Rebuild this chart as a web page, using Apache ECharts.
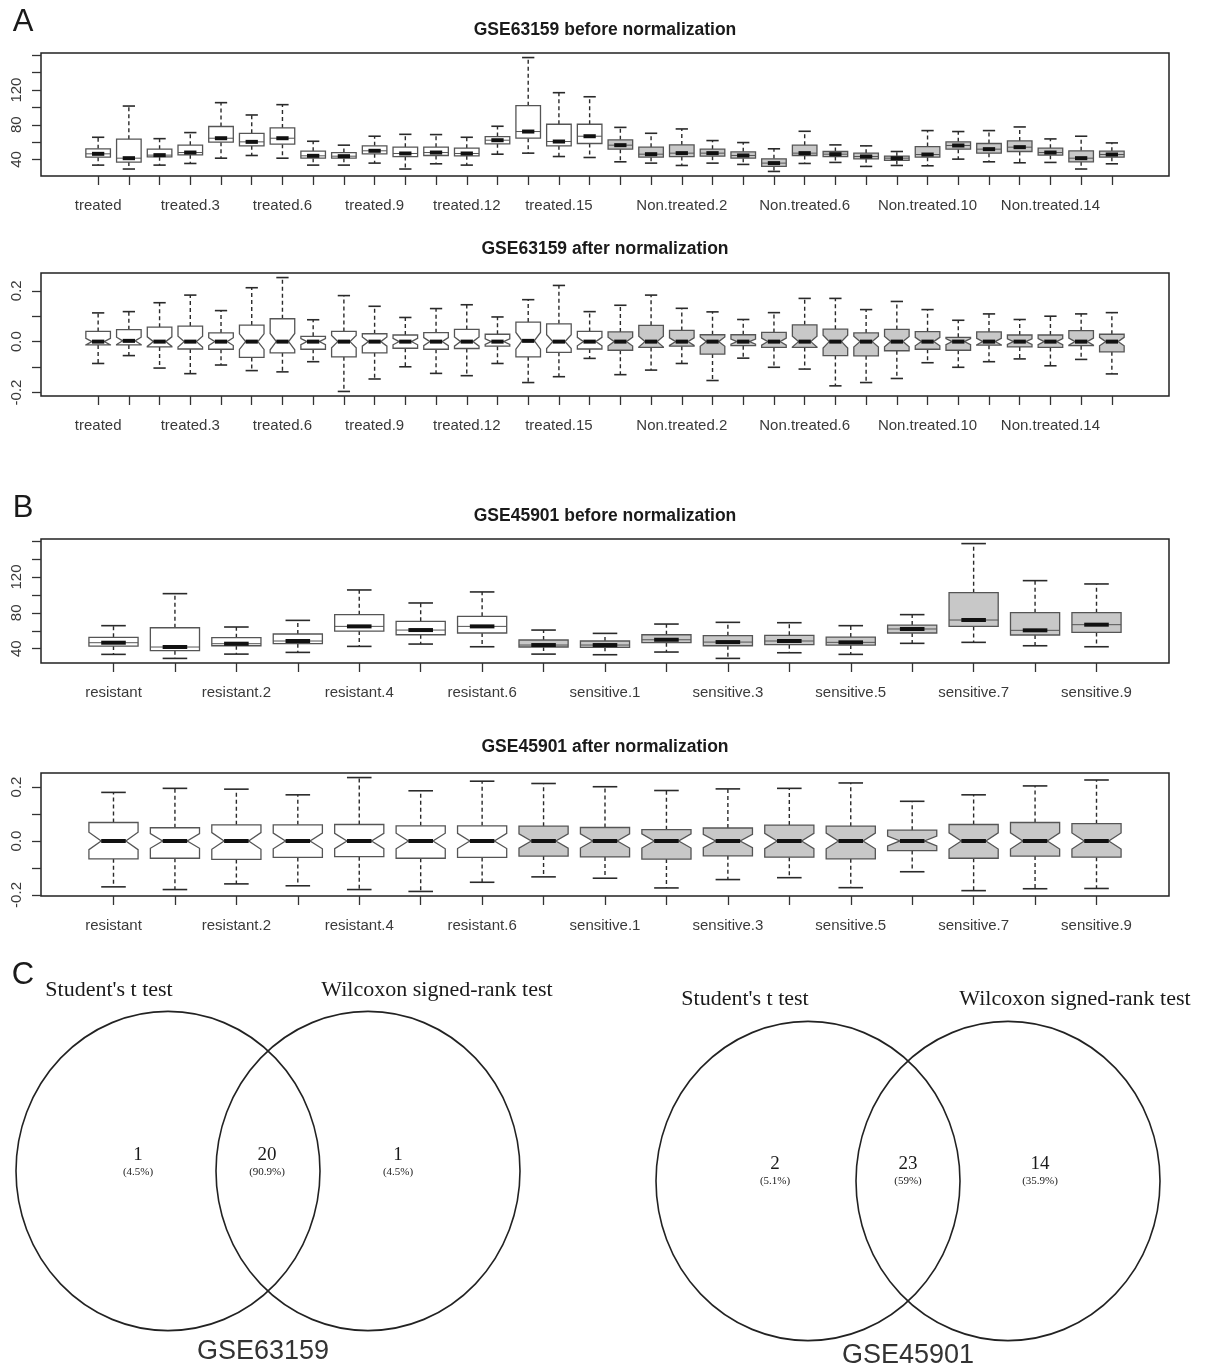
<!DOCTYPE html>
<html><head><meta charset="utf-8">
<script src="https://cdn.jsdelivr.net/npm/echarts@6/dist/echarts.min.js"></script>
<style>html,body{margin:0;padding:0;background:#fff}#c{width:1207px;height:1367px}</style>
</head><body><div id="c"></div>
<script>
// ---------- DATA ----------
const namesA = ['treated','treated.1','treated.2','treated.3','treated.4','treated.5','treated.6','treated.7','treated.8','treated.9','treated.10','treated.11','treated.12','treated.13','treated.14','treated.15','treated.16',
  'Non.treated','Non.treated.1','Non.treated.2','Non.treated.3','Non.treated.4','Non.treated.5','Non.treated.6','Non.treated.7','Non.treated.8','Non.treated.9','Non.treated.10','Non.treated.11','Non.treated.12','Non.treated.13','Non.treated.14','Non.treated.15','Non.treated.16'];
const shownA = ['treated','treated.3','treated.6','treated.9','treated.12','treated.15','Non.treated.2','Non.treated.6','Non.treated.10','Non.treated.14'];
const namesB = ['resistant','resistant.1','resistant.2','resistant.3','resistant.4','resistant.5','resistant.6',
  'sensitive','sensitive.1','sensitive.2','sensitive.3','sensitive.4','sensitive.5','sensitive.6','sensitive.7','sensitive.8','sensitive.9'];
const shownB = ['resistant','resistant.2','resistant.4','resistant.6','sensitive.1','sensitive.3','sensitive.5','sensitive.7','sensitive.9'];

// GSE63159 before normalization
const a1High = [65.6,101.6,64,71,105.5,91.3,103.2,61,56.5,66.8,69,68.7,65.6,78.3,157.5,117,112.3, 77,70.2,75.2,61.8,59.5,52.3,72.5,56.8,55.7,49.2,73.3,72.2,73.3,77.5,63.7,66.8,59.1];
const a1Q3   = [52.3,63.4,51.9,56.5,78,70.2,76.4,49.6,48,55.7,54.2,54.2,53,66.4,102,80.6,80.6, 62.6,54.2,56.8,51.9,48.8,40.8,56.5,49.2,47.3,43.8,54.9,60.3,58.4,61.4,53,50,49.6];
const a1Med  = [46.5,41.5,45,48,64.5,60.3,64.5,44.2,43.8,50,46.9,48,46.9,62.2,72.2,60.7,66.8, 56.5,46.1,47.3,47.3,44.6,35.8,47.3,46.1,43.4,41.5,45.7,56.1,51.9,54.2,48,41.5,45.7];
const a1Q1   = [42.7,37,43,45.4,60,55.7,57.6,41.5,41.5,46.5,43.4,44.6,44.2,58,64.5,55.7,58.4, 51.9,42.7,43.4,43.8,41.5,32,44.6,43.4,40.8,38.9,42.7,51.9,47.3,49.2,45,37.3,42.7];
const a1Low  = [33.5,29,33.5,35.4,41.5,44.6,41.5,33.5,33.5,35.8,29,35,33.5,46.1,47.3,43.4,42.3, 37.3,35.8,33.1,35.8,34.3,26.2,35.4,36.6,32,33.1,32.7,40.4,37.3,36.2,36.6,29,35];

// GSE63159 after normalization
const a2High = [0.113,0.118,0.153,0.183,0.122,0.212,0.252,0.086,0.181,0.139,0.095,0.130,0.145,0.097,0.165,0.221,0.118, 0.143,0.183,0.131,0.117,0.087,0.114,0.170,0.170,0.126,0.158,0.126,0.084,0.109,0.087,0.100,0.109,0.114];
const a2Q3   = [0.040,0.047,0.057,0.061,0.034,0.065,0.090,0.021,0.040,0.031,0.026,0.035,0.048,0.029,0.077,0.070,0.040, 0.038,0.064,0.044,0.027,0.027,0.036,0.066,0.049,0.034,0.048,0.039,0.017,0.038,0.026,0.026,0.043,0.029];
const a2Med  = [0,0.003,0,0,0,0,0,0,0,0,0,0,0,0,0.003,0,0, 0,0,0,0,0,0,0,0,0,0,0,0,0,0,0,0,0];
const a2Q1   = [-0.013,-0.013,-0.021,-0.029,-0.030,-0.062,-0.044,-0.030,-0.060,-0.044,-0.026,-0.030,-0.027,-0.018,-0.060,-0.042,-0.029, -0.034,-0.023,-0.018,-0.049,-0.016,-0.023,-0.023,-0.055,-0.056,-0.036,-0.030,-0.034,-0.014,-0.021,-0.023,-0.016,-0.040];
const a2Low  = [-0.086,-0.055,-0.104,-0.126,-0.092,-0.114,-0.119,-0.079,-0.196,-0.147,-0.099,-0.125,-0.134,-0.086,-0.161,-0.138,-0.066, -0.130,-0.112,-0.086,-0.153,-0.065,-0.101,-0.108,-0.174,-0.161,-0.145,-0.083,-0.101,-0.079,-0.068,-0.095,-0.070,-0.127];

// GSE45901 before normalization
const b1High = [65.7,101.4,64.2,71.6,105.5,91,103.3,60.8,57.1,67.5,69.4,69,65.7,78,157.2,115.9,112.2];
const b1Q3   = [52.7,63.4,52.3,56.4,77.9,70.5,76.1,49.7,48.6,55.6,54.5,54.9,53,66.4,102.5,80.2,80.2];
const b1Med  = [46.7,41.9,45.6,48.6,64.9,60.8,64.9,44.1,44.1,50,47.4,48.6,47.1,62,72,60.5,66.8];
const b1Q1   = [43,37.8,43.3,45.6,59.7,55.6,57.5,41.9,41.5,46.7,43.3,44.5,44.1,57.5,64.9,55.3,58.2];
const b1Low  = [33.7,29.2,34,35.9,42.6,45.2,42.2,34,33.3,36.3,29.2,35.5,33.7,46,47.1,43.3,42.2];

// GSE45901 after normalization
const b2High = [0.180,0.195,0.192,0.171,0.235,0.186,0.2215,0.213,0.201,0.187,0.193,0.195,0.215,0.147,0.171,0.204,0.226];
const b2Q3   = [0.0685,0.049,0.060,0.060,0.061,0.056,0.056,0.055,0.050,0.042,0.048,0.059,0.055,0.040,0.061,0.0685,0.064];
const b2Med  = [0,0,0,0,0,0,0,0,0,0,0,0,0,0,0,0,0];
const b2Q1   = [-0.066,-0.064,-0.0685,-0.061,-0.058,-0.064,-0.061,-0.056,-0.059,-0.067,-0.055,-0.060,-0.066,-0.0355,-0.064,-0.056,-0.060];
const b2Low  = [-0.170,-0.180,-0.159,-0.166,-0.180,-0.187,-0.153,-0.133,-0.138,-0.174,-0.143,-0.136,-0.173,-0.114,-0.184,-0.177,-0.176];

const beforeTicks = [40,60,80,100,120,140,160];
const beforeLabels = [40,80,120];
const afterTicks = [-0.2,-0.1,0,0.1,0.2];
const afterLabels = [-0.2,0,0.2];

// Venn diagrams
const vennSetNames = ["Student's t test", 'Wilcoxon signed-rank test'];
const vennTitles = ['GSE63159','GSE45901'];
const vennCountsA = [1,20,1];
const vennPctA = ['(4.5%)','(90.9%)','(4.5%)'];
const vennCountsB = [2,23,14];
const vennPctB = ['(5.1%)','(59%)','(35.9%)'];

// ---------- RENDER ----------
const SANS = '"Liberation Sans", Arial, sans-serif';
const SERIF = '"Liberation Serif", "Times New Roman", serif';
const panels = [
  {title:'GSE63159 before normalization', top:53, h:123, names:namesA, shown:shownA, grey:'Non', notch:false,
   low:a1Low,q1:a1Q1,med:a1Med,q3:a1Q3,high:a1High, ticks:beforeTicks, labs:beforeLabels, fmt:v=>String(v), ty:30},
  {title:'GSE63159 after normalization', top:273, h:123, names:namesA, shown:shownA, grey:'Non', notch:true,
   low:a2Low,q1:a2Q1,med:a2Med,q3:a2Q3,high:a2High, ticks:afterTicks, labs:afterLabels, fmt:v=>v.toFixed(1), ty:249},
  {title:'GSE45901 before normalization', top:539, h:124, names:namesB, shown:shownB, grey:'sensitive', notch:false,
   low:b1Low,q1:b1Q1,med:b1Med,q3:b1Q3,high:b1High, ticks:beforeTicks, labs:beforeLabels, fmt:v=>String(v), ty:516},
  {title:'GSE45901 after normalization', top:773, h:123, names:namesB, shown:shownB, grey:'sensitive', notch:true,
   low:b2Low,q1:b2Q1,med:b2Med,q3:b2Q3,high:b2High, ticks:afterTicks, labs:afterLabels, fmt:v=>v.toFixed(1), ty:747}
];

const grids=[], xAxes=[], yAxes=[], series=[], graphics=[];
panels.forEach((p, k) => {
  const n = p.names.length;
  grids.push({left:41, width:1128, top:p.top, height:p.h, show:true, borderColor:'#222', borderWidth:1.5, backgroundColor:'transparent'});
  const ext = 0.04*n;
  xAxes.push({gridIndex:k, type:'value', min:0.5-ext, max:n+0.5+ext, position:'bottom',
    axisLine:{show:false, onZero:false}, splitLine:{show:false},
    axisTick:{show:true, length:9, customValues:p.names.map((_,i)=>i+1), lineStyle:{color:'#333', width:1.3}},
    axisLabel:{customValues:p.shown.map(s=>p.names.indexOf(s)+1), formatter:v=>p.names[Math.round(v)-1],
      margin:22, fontSize:15, fontFamily:SANS, color:'#3a3a3a'}});
  const dmin = Math.min(...p.low), dmax = Math.max(...p.high), r = dmax-dmin;
  yAxes.push({gridIndex:k, type:'value', min:dmin-0.04*r, max:dmax+0.04*r, position:'left',
    axisLine:{show:false, onZero:false}, splitLine:{show:false},
    axisTick:{show:true, length:9, customValues:p.ticks, lineStyle:{color:'#333', width:1.3}},
    axisLabel:{customValues:p.labs, formatter:p.fmt, rotate:90, margin:17, fontSize:15, fontFamily:SANS, color:'#3a3a3a'}});
  const data = p.names.map((nm,i)=>[i+1, p.low[i], p.q1[i], p.med[i], p.q3[i], p.high[i], nm.startsWith(p.grey)?1:0]);
  series.push({type:'custom', xAxisIndex:k, yAxisIndex:k, data, clip:false, silent:true,
    encode:{x:0, y:[1,2,3,4,5]},
    renderItem:(params, api) => {
      const x = api.value(0), lo = api.value(1), q1 = api.value(2), md = api.value(3), q3 = api.value(4), hi = api.value(5);
      const grey = api.value(6) === 1;
      const hw = 0.4;
      const P = (dx, v) => api.coord([x+dx, v]);
      const ln = (a, b, style) => ({type:'line', shape:{x1:a[0], y1:a[1], x2:b[0], y2:b[1]}, style});
      const dash = {stroke:'#2a2a2a', lineWidth:1.4, lineDash:[4,3]};
      const solid = {stroke:'#2a2a2a', lineWidth:1.6};
      const ch = [];
      ch.push(ln(P(0,q3), P(0,hi), dash));
      ch.push(ln(P(0,q1), P(0,lo), dash));
      ch.push(ln(P(-hw/2,hi), P(hw/2,hi), solid));
      ch.push(ln(P(-hw/2,lo), P(hw/2,lo), solid));
      let pts;
      if (p.notch) {
        const nh = 0.24*(q3-q1);
        pts = [P(-hw,q3), P(hw,q3), P(hw,md+nh), P(hw/2,md), P(hw,md-nh), P(hw,q1), P(-hw,q1), P(-hw,md-nh), P(-hw/2,md), P(-hw,md+nh)];
      } else {
        pts = [P(-hw,q3), P(hw,q3), P(hw,q1), P(-hw,q1)];
      }
      ch.push({type:'polygon', shape:{points:pts}, style:{fill: grey ? '#c8c8c8' : '#ffffff', stroke:'#555', lineWidth:1.3}});
      if (!p.notch) ch.push(ln(P(-hw,md), P(hw,md), {stroke:'#555', lineWidth:1}));
      ch.push(ln(P(-hw/2,md), P(hw/2,md), {stroke:'#111', lineWidth:4}));
      return {type:'group', children:ch};
    }});
  graphics.push({type:'text', x:605, y:p.ty, style:{text:p.title, font:'bold 17.5px '+SANS, fill:'#1a1a1a', textAlign:'center', textVerticalAlign:'middle', align:'center', verticalAlign:'middle'}});
});

// panel letters
[['A',23,22],['B',23,508],['C',23,975]].forEach(([t,x,y]) => {
  graphics.push({type:'text', x, y, style:{text:t, font:'31px '+SANS, fill:'#1a1a1a', textAlign:'center', textVerticalAlign:'middle', align:'center', verticalAlign:'middle'}});
});

// Venn diagrams
const venns = [
  {cx:[168,368], cy:1171, setY:990, setX:[109,437], numX:[138,267,398], numY:1155, counts:vennCountsA, pct:vennPctA, title:vennTitles[0], tx:263, tyy:1352},
  {cx:[808,1008], cy:1181, setY:999, setX:[745,1075], numX:[775,908,1040], numY:1164, counts:vennCountsB, pct:vennPctB, title:vennTitles[1], tx:908, tyy:1356}
];
const T = (text, x, y, font, fill) => ({type:'text', x, y, style:{text, font, fill:fill||'#1a1a1a', textAlign:'center', textVerticalAlign:'middle', align:'center', verticalAlign:'middle'}});
venns.forEach(v => {
  v.cx.forEach(cx => graphics.push({type:'circle', x:cx, y:v.cy, scaleY:1.05, shape:{cx:0, cy:0, r:152}, style:{fill:'none', stroke:'#222', lineWidth:1.6}}));
  vennSetNames.forEach((s,i) => graphics.push(T(s, v.setX[i], v.setY, '22px '+SERIF)));
  v.counts.forEach((c,i) => {
    graphics.push(T(String(c), v.numX[i], v.numY, '19px '+SERIF));
    graphics.push(T(v.pct[i], v.numX[i], v.numY+17, '11px '+SERIF));
  });
  graphics.push(T(v.title, v.tx, v.tyy, '27px '+SANS, '#333'));
});

const chart = echarts.init(document.getElementById('c'), null, {renderer:'canvas', width:1207, height:1367});
chart.setOption({
  backgroundColor:'#ffffff',
  animation:false,
  grid:grids, xAxis:xAxes, yAxis:yAxes, series,
  graphic:{elements:graphics}
});
</script></body></html>
